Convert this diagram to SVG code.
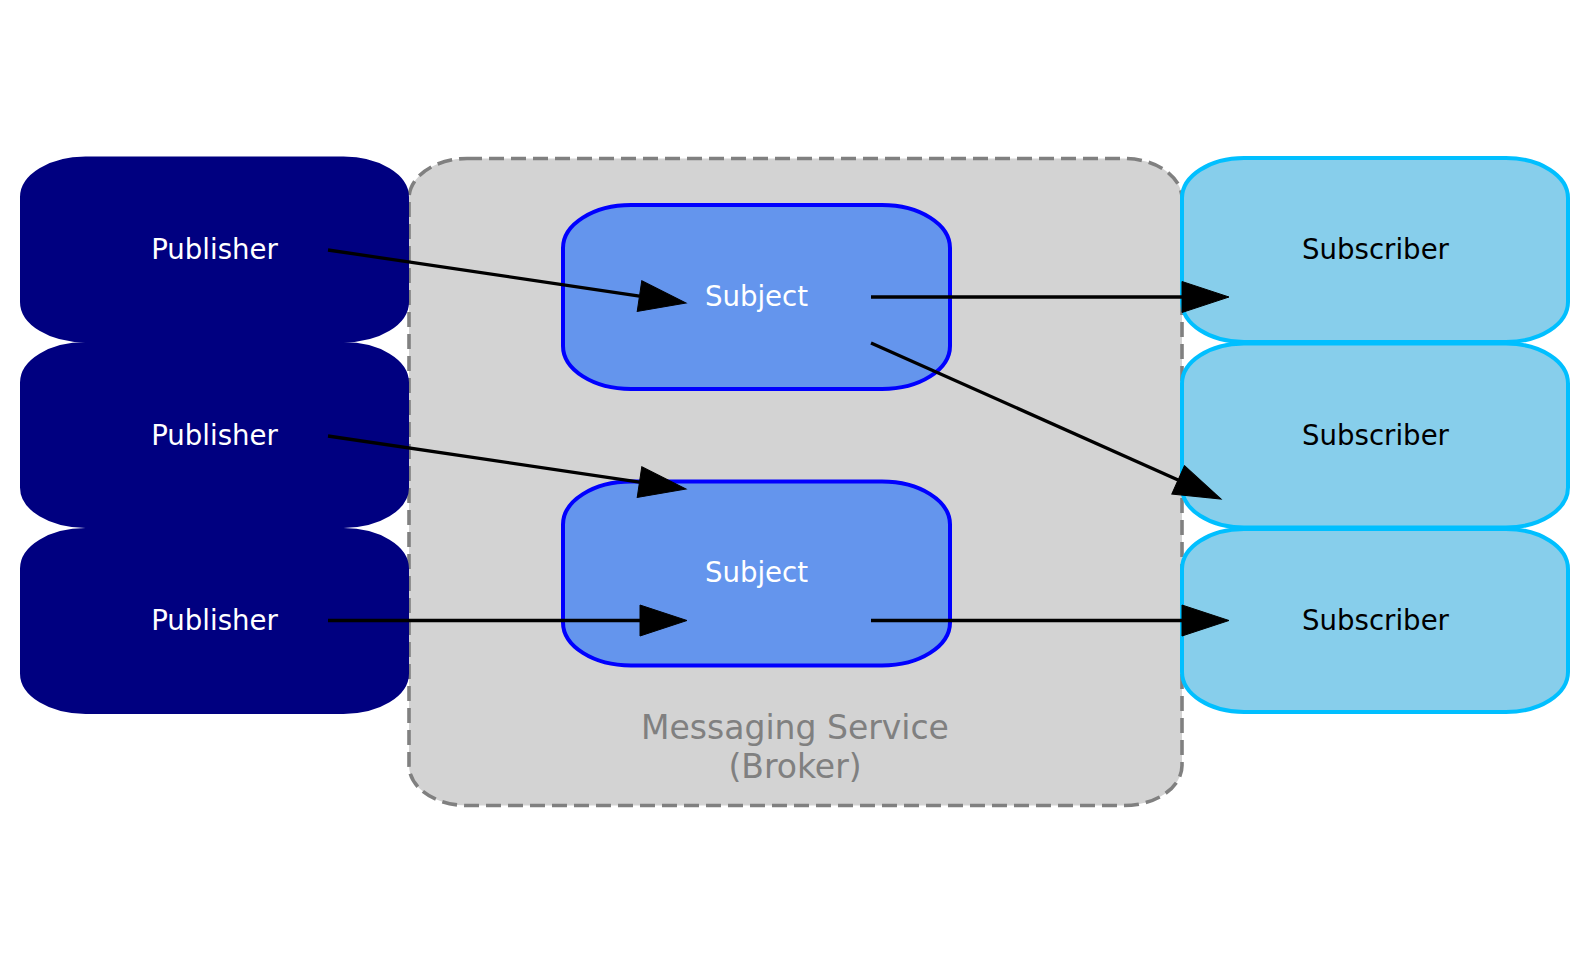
<svg xmlns="http://www.w3.org/2000/svg" width="1589" height="964" viewBox="0 0 1589 964">
<defs>
<marker id="ah" markerUnits="userSpaceOnUse" markerWidth="50" markerHeight="34" refX="0" refY="15.5" orient="auto" overflow="visible">
<path d="M0,0 L47,15.5 L0,31 z" fill="#000" stroke="#000" stroke-width="1"/>
</marker>
</defs>
<style>
text{font-family:"DejaVu Sans","Liberation Sans",sans-serif;text-anchor:middle}
.pub rect{fill:#000080;stroke:#000080;stroke-width:3}
.sub rect{fill:#87CEEB;stroke:#00BFFF;stroke-width:4}
.subj rect{fill:#6495ED;stroke:#0000FF;stroke-width:4}
.lbl{font-size:27.6px}
.w{fill:#fff}
.k{fill:#000}
.edge{stroke:#000;stroke-width:3.3;fill:none;marker-end:url(#ah)}
</style>
<rect width="1589" height="964" fill="#fff"/>
<g id="broker">
<rect x="409" y="158.5" width="773" height="647" rx="58" ry="40" fill="#D3D3D3" stroke="#808080" stroke-width="3.6" stroke-dasharray="15,7"/>
<text x="795" y="738.5" font-size="33" fill="#808080">Messaging Service</text>
<text x="795" y="777.5" font-size="33" fill="#808080">(Broker)</text>
</g>
<g id="pub1" class="pub"><rect x="21.5" y="158" width="386" height="183" rx="64" ry="39"/><text class="lbl w" x="214.5" y="258.5">Publisher</text></g>
<g id="pub2" class="pub"><rect x="21.5" y="343.5" width="386" height="183" rx="64" ry="39"/><text class="lbl w" x="214.5" y="444.5">Publisher</text></g>
<g id="pub3" class="pub"><rect x="21.5" y="529.5" width="386" height="183" rx="64" ry="39"/><text class="lbl w" x="214.5" y="630">Publisher</text></g>
<g id="subject1" class="subj"><rect x="563" y="205" width="387" height="184" rx="68" ry="43"/><text class="lbl w" x="756.5" y="305.5">Subject</text></g>
<g id="subject2" class="subj"><rect x="563" y="481.5" width="387" height="184" rx="68" ry="43"/><text class="lbl w" x="756.5" y="582">Subject</text></g>
<g id="sub1" class="sub"><rect x="1182" y="158" width="386" height="184" rx="62" ry="40"/><text class="lbl k" x="1375.5" y="258.5">Subscriber</text></g>
<g id="sub2" class="sub"><rect x="1182" y="343.5" width="386" height="184" rx="62" ry="40"/><text class="lbl k" x="1375.5" y="444.5">Subscriber</text></g>
<g id="sub3" class="sub"><rect x="1182" y="529" width="386" height="183" rx="62" ry="40"/><text class="lbl k" x="1375.5" y="629.5">Subscriber</text></g>
<g id="edges">
<path class="edge" d="M328,250 L639.5,296.1"/>
<path class="edge" d="M328,436 L639.5,482.1"/>
<path class="edge" d="M328,620.5 L640,620.5"/>
<path class="edge" d="M871,297 L1182,297"/>
<path class="edge" d="M871,343 L1178.1,479.9"/>
<path class="edge" d="M871,620.5 L1182,620.5"/>
</g>
</svg>
